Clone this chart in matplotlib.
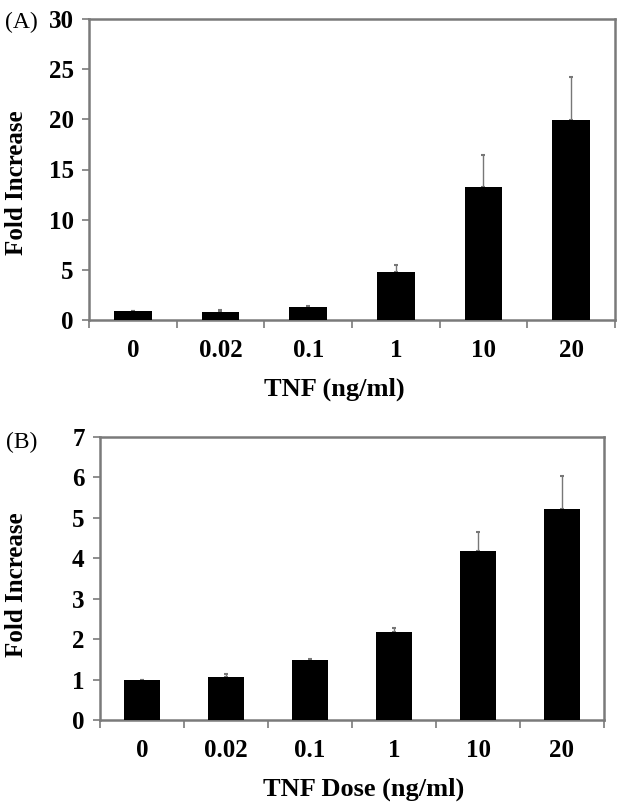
import numpy as np
import matplotlib
matplotlib.use('Agg')
import matplotlib.pyplot as plt

plt.rcParams['font.family'] = 'Liberation Serif'
plt.rcParams['font.weight'] = 'bold'

doses = ['0', '0.02', '0.1', '1', '10', '20']

# panel A
fold_a = [0.93, 0.83, 1.26, 4.74, 13.3, 19.95]
top_a = [0.93, 1.0, 1.4, 5.53, 16.4, 24.25]
# panel B
fold_b = [0.99, 1.07, 1.48, 2.18, 4.18, 5.23]
top_b = [0.99, 1.15, 1.52, 2.28, 4.64, 6.03]

W, H = 624, 808
fig = plt.figure(figsize=(W / 100, H / 100), dpi=100)

spine_col = '#7a7a7a'
n = 18   # tick font size
n2 = 18  # label font size


def px(x, y):
    return x / W, 1 - y / H


def panel(rect, vals, tops, ymax, ystep, xlabel, xlab_pos, ylab_pos, tag, tag_xy):
    ax = fig.add_axes(rect)
    x = np.arange(len(vals))
    err = np.array(tops) - np.array(vals)
    ax.bar(x, vals, width=0.43, color='black', zorder=3)
    ax.errorbar(x, vals, yerr=[np.zeros(len(vals)), err], fmt='none',
                ecolor='#777777', elinewidth=1.0, capsize=1.5, capthick=1.5, zorder=2)
    ax.set_xlim(-0.5, len(vals) - 0.5)
    ax.set_ylim(0, ymax)
    yt = np.arange(0, ymax + 0.01, ystep)
    ax.set_yticks(yt)
    ax.set_yticklabels([str(int(v)) for v in yt], fontsize=n, fontweight='bold')
    # category labels centered, ticks at boundaries
    ax.set_xticks(np.arange(-0.5, len(vals) + 0.5, 1.0))
    ax.set_xticklabels([])
    ax.set_xticks(x, minor=True)
    ax.set_xticklabels(doses, minor=True, fontsize=n, fontweight='bold')
    ax.tick_params(axis='x', which='major', direction='out', length=6, width=1.2, color=spine_col)
    ax.tick_params(axis='x', which='minor', length=0, pad=14)
    ax.tick_params(axis='y', direction='out', length=5, width=1.2, color=spine_col, pad=6)
    for s in ax.spines.values():
        s.set_color(spine_col)
        s.set_linewidth(1.8)
    ax.set_ylabel('Fold Increase', fontsize=n2, fontweight='bold', va='center')
    ax.yaxis.set_label_coords(*px(*ylab_pos), transform=fig.transFigure)
    ax.set_xlabel(xlabel, fontsize=n2 + 1, fontweight='bold', va='center')
    ax.xaxis.set_label_coords(*px(*xlab_pos), transform=fig.transFigure)
    fig.text(*px(*tag_xy), tag, fontsize=17, fontweight='normal',
             ha='left', va='center')
    return ax


panel([89 / W, 1 - 320 / H, (615 - 89) / W, (320 - 19) / H],
      fold_a, top_a, 30, 5, 'TNF (ng/ml)', (334, 389), (17, 183), '(A)', (5, 22))
panel([100 / W, 1 - 720 / H, (604 - 100) / W, (720 - 437) / H],
      fold_b, top_b, 7, 1, 'TNF Dose (ng/ml)', (364, 789), (17, 585), '(B)', (6, 442))

fig.savefig('out.png', dpi=100)
